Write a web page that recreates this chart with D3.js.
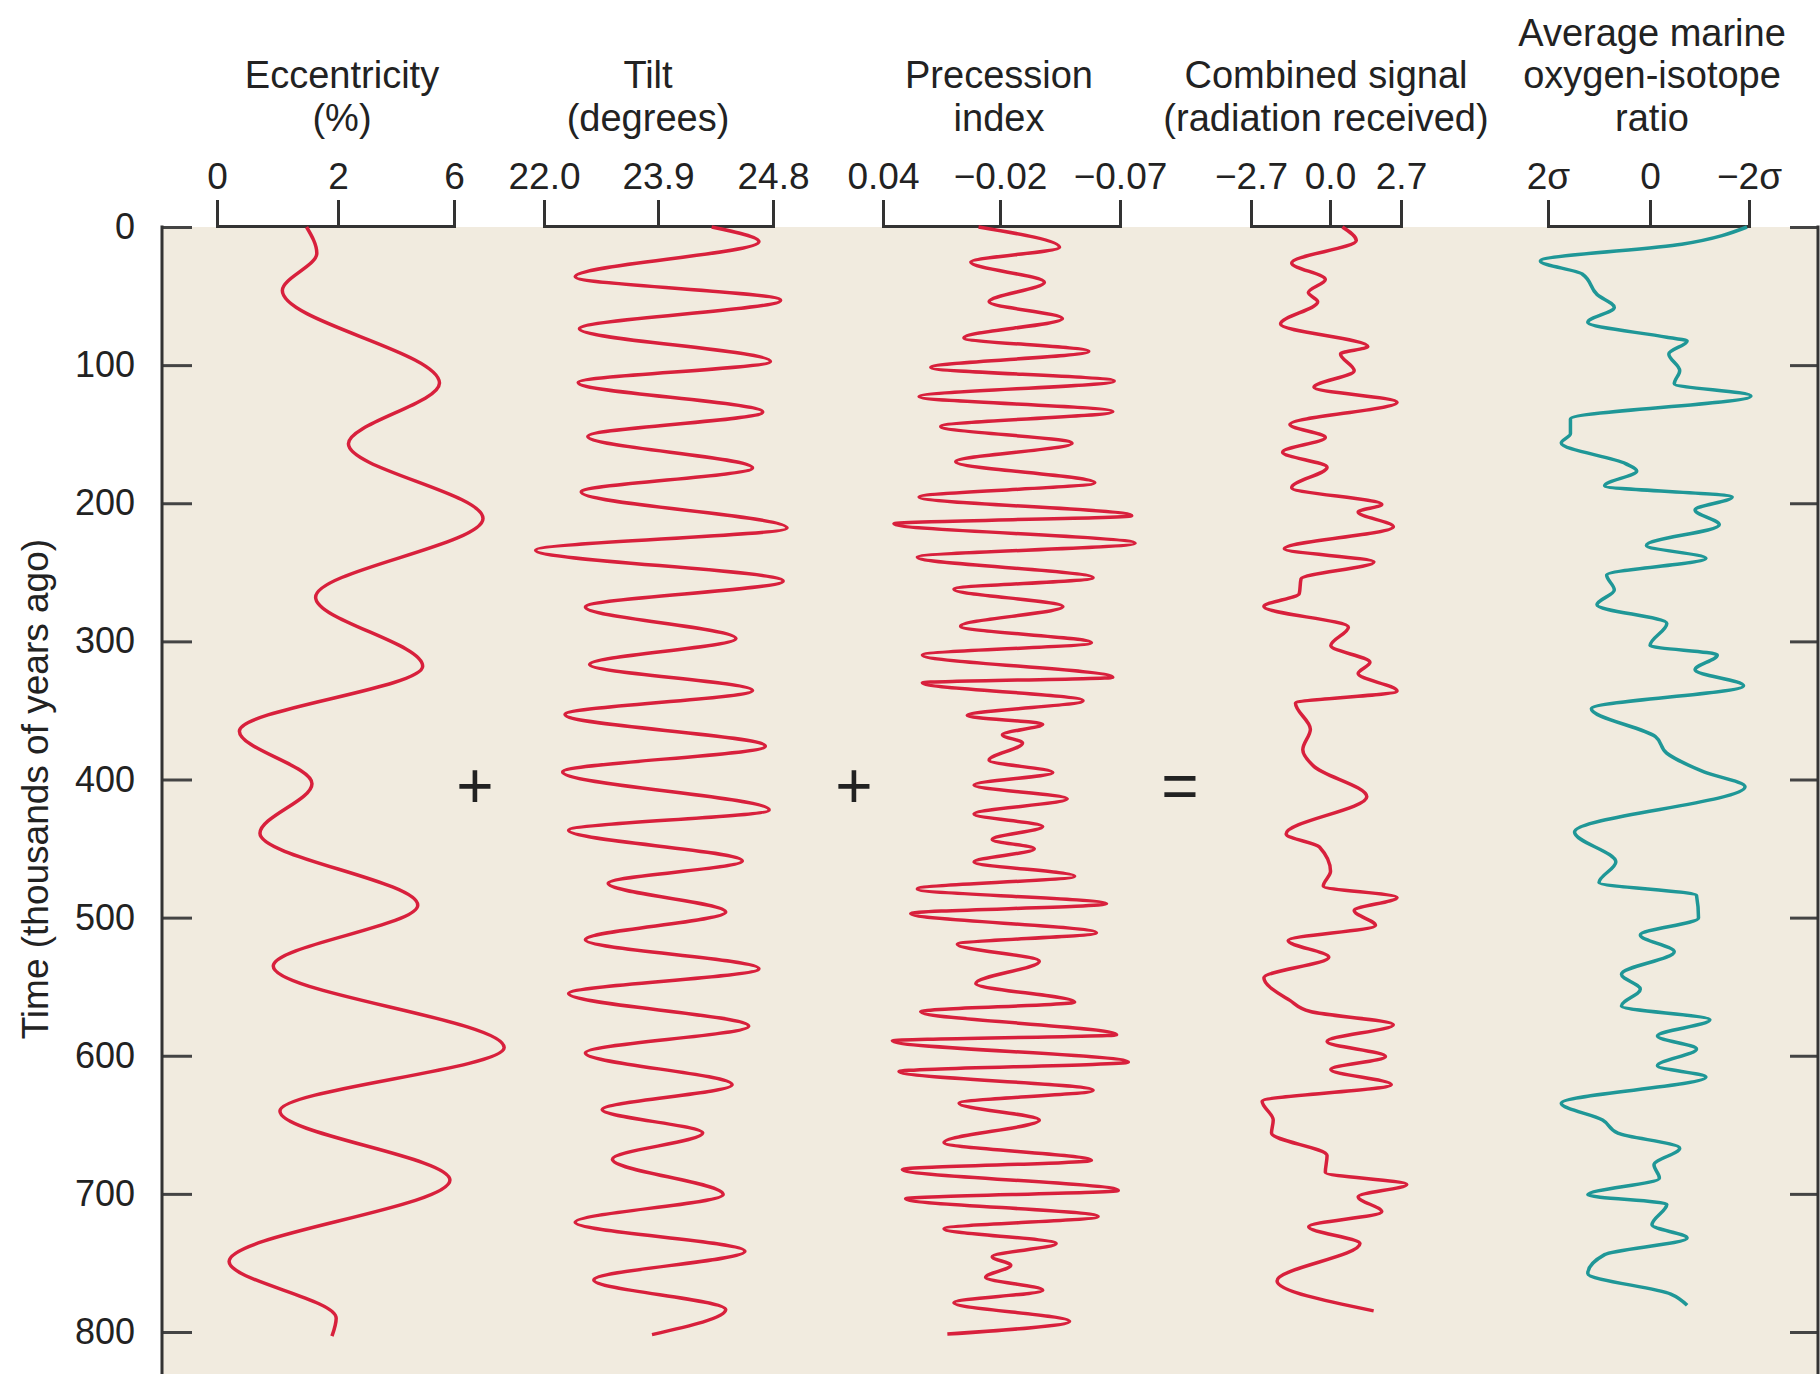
<!DOCTYPE html>
<html>
<head>
<meta charset="utf-8">
<script src="https://cdn.jsdelivr.net/npm/d3@7"></script>
<style>
  body { margin: 0; background: #fff; }
  text { font-family: "Liberation Sans", Arial, Helvetica, sans-serif; fill: #222; }
</style>
</head>
<body>
<div id="chart"></div>
<script>
// time axis (thousands of years ago)
var timeTicks = [0, 100, 200, 300, 400, 500, 600, 700, 800];

// column tick values and their printed labels
var eccTicks = [0, 2, 6];
var eccLabels = ['0', '2', '6'];
var tiltTicks = [22.0, 23.9, 24.8];
var tiltLabels = ['22.0', '23.9', '24.8'];
var precTicks = [0.04, -0.02, -0.07];
var precLabels = ['0.04', '\u22120.02', '\u22120.07'];
var combTicks = [-2.7, 0, 2.7];
var combLabels = ['\u22122.7', '0.0', '2.7'];
var isoTicks = [2, 0, -2];
var isoLabels = ['2\u03c3', '0', '\u22122\u03c3'];

// eccentricity (%)
var eccTime = [0, 19, 46, 113, 157, 211, 268, 318, 365, 403, 439, 491, 535, 594, 640, 690, 749, 790, 803];
var eccValue = [1.48, 1.65, 1.08, 5.50, 2.36, 7.0, 1.63, 4.92, 0.37, 1.57, 0.71, 4.75, 0.93, 7.73, 1.04, 5.86, 0.20, 1.97, 1.90];

// tilt (degrees)
var tiltTime = [0, 10.6, 36, 53, 73.7, 97.3, 112.6, 134, 151.6, 174.4, 191.9, 217.9, 234, 256.3, 275.1, 298, 316.8,
  335.6, 353, 375.9, 394.6, 422, 436.8, 459, 475.2, 496, 516, 537, 555, 578.6, 598, 621, 639, 656, 674.9, 700.4,
  720.6, 741.6, 762.3, 783.8, 801.9];
var tiltValue = [24.32, 24.69, 22.52, 24.86, 22.59, 24.78, 22.57, 24.72, 22.73, 24.64, 22.62, 24.91, 21.86, 24.88,
  22.69, 24.51, 22.76, 24.64, 22.35, 24.74, 22.31, 24.77, 22.41, 24.56, 23.07, 24.43, 22.69, 24.69, 22.41, 24.61,
  22.69, 24.48, 22.97, 24.25, 23.14, 24.41, 22.52, 24.58, 22.83, 24.43, 23.8];

// precession index
var precTime = [0, 14.7, 25.4, 40, 54.2, 66.3, 80.3, 90, 101.8, 111.5, 122.8, 133.6, 144.4, 156.5, 169.9, 185.2,
  195.5, 209, 214.8, 229, 239, 254, 262.2, 274.8, 289, 301, 309.8, 326, 330, 342.9, 353.7, 360, 367.6, 373.6, 386,
  395, 404, 414, 425, 434, 443.4, 450.2, 459.7, 470, 479.2, 490, 497, 511, 519.3, 531.5, 547.7, 561.2, 568, 584.8,
  589.2, 604.6, 611.4, 625, 634.4, 646.6, 662.8, 675.8, 682.3, 697.5, 703.5, 716.4, 725.2, 736, 745.5, 751.7,
  760.4, 769.8, 778.8, 792.3, 801.5];
var precValue = [-0.009, -0.0448, -0.005, -0.0385, -0.0144, -0.046, -0.0015, -0.057, 0.0155, -0.0676, 0.0215,
  -0.067, 0.0104, -0.050, 0.0027, -0.0595, 0.0215, -0.0749, 0.0344, -0.0763, 0.0224, -0.0588, 0.0036, -0.0462,
  0.0002, -0.0581, 0.0198, -0.067, 0.0198, -0.0546, -0.0032, -0.0378, -0.021, -0.0294, -0.0144, -0.042, -0.0067,
  -0.048, -0.0067, -0.0378, -0.016, -0.0343, -0.0067, -0.0511, 0.0224, -0.0644, 0.0258, -0.0602, 0.0019, -0.0364,
  -0.0076, -0.0511, 0.0207, -0.0686, 0.0352, -0.0735, 0.0318, -0.0588, 0.001, -0.0364, 0.0087, -0.0581, 0.0301,
  -0.0693, 0.0284, -0.0609, 0.0087, -0.0434, -0.016, -0.0245, -0.0126, -0.0378, 0.0036, -0.049, 0.007];

// combined signal (radiation received)
var combTime = [0, 9.8, 26, 38, 47.5, 54.2, 70.3, 86.5, 91.9, 104, 116, 126.8, 143, 152.4, 163, 174, 188.7, 200.9,
  206.3, 217, 233, 242.5, 254.7, 265.4, 274.8, 289.7, 303, 315.2, 323.3, 336, 344.8, 363.6, 378.4, 390.5, 412.5,
  439.4, 448.9, 466.5, 477.3, 485.4, 494.9, 505.7, 516.6, 528.7, 543.6, 559.9, 568, 577.5, 589.7, 600.5, 610,
  620.9, 633, 646.5, 656, 672.3, 684.5, 693.2, 702, 713, 723.8, 736, 763, 784.7];
var combValue = [0.47, 1.0, -1.31, -0.16, -0.74, -0.42, -1.69, 1.44, 0.40, 0.92, -0.55, 2.55, -1.37, -0.16, -1.62,
  -0.10, -1.31, 1.97, 1.07, 2.41, -1.56, 1.67, -0.99, -1.05, -2.26, 0.70, 0.03, 1.52, 1.07, 2.55, -1.18, -0.67,
  -0.93, -0.55, 1.40, -1.50, -0.36, 0.02, -0.23, 2.55, 0.92, 1.73, -1.43, -0.04, -2.26, -1.37, -0.67, 2.41, -0.10,
  2.11, 0.03, 2.33, -2.32, -1.94, -2.0, -0.10, -0.16, 2.92, 1.07, 1.97, -0.73, 1.14, -1.81, 1.66];

// average marine oxygen-isotope ratio (sigma units)
var isoTime = [0, 12.5, 24.6, 34, 48.8, 58.3, 69, 79.8, 82.5, 91.9, 104, 113.4, 122.3, 139, 149.7, 156.4, 171.3,
  176.6, 187.4, 195.5, 204.9, 215.6, 230.5, 239.9, 252, 262.8, 273.5, 287, 303, 309.8, 320.6, 332.1, 348.8, 369,
  381, 394.5, 405.3, 438, 459.7, 474.6, 484, 500.3, 512.5, 524.7, 541, 551.8, 564, 574, 585.7, 595.1, 607.3, 615.4,
  634.4, 646.5, 656, 666.9, 679, 688.6, 700.7, 707.5, 722.4, 732, 744, 757.6, 772.5, 780.7];
var isoValue = [-1.96, -0.64, 2.15, 1.33, 1.04, 0.70, 1.22, -0.34, -0.75, -0.38, -0.60, -0.49, -2.04, 1.56, 1.56,
  1.74, 0.48, 0.26, 0.89, -1.66, -0.91, -1.40, 0.07, -1.13, 0.85, 0.70, 1.04, -0.34, 0.0, -1.36, -0.91, -1.89,
  1.15, -0.11, -0.34, -1.09, -1.92, 1.48, 0.67, 1.0, -0.94, -0.98, 0.19, -0.49, 0.56, 0.19, 0.56, -1.21, -0.15,
  -0.94, -0.15, -1.13, 1.74, 0.93, 0.63, -0.60, -0.08, -0.19, 1.22, -0.34, -0.04, -0.75, 0.89, 1.22, -0.42, -0.75];

var red = '#d8203c';
var teal = '#1f9797';

var width = 1820, height = 1374;
var plot = {left: 162, right: 1818, top: 227, bottom: 1374};

var svg = d3.select('#chart')
            .append('svg')
            .attr('width', width)
            .attr('height', height);

var y = d3.scaleLinear().domain([0, 800]).range([227, 1332]);

svg.append('rect')
  .attr('x', plot.left)
  .attr('y', plot.top)
  .attr('width', plot.right - plot.left)
  .attr('height', plot.bottom - plot.top)
  .attr('fill', '#f1ebdf');

var columns = [
  {title: ['Eccentricity', '(%)'], center: 342, ticks: eccTicks, labels: eccLabels,
   range: [217, 338, 454], time: eccTime, value: eccValue, color: red},
  {title: ['Tilt', '(degrees)'], center: 648, ticks: tiltTicks, labels: tiltLabels,
   range: [544, 658, 773], time: tiltTime, value: tiltValue, color: red},
  {title: ['Precession', 'index'], center: 999, ticks: precTicks, labels: precLabels,
   range: [883, 1000, 1120], time: precTime, value: precValue, color: red},
  {title: ['Combined signal', '(radiation received)'], center: 1326, ticks: combTicks, labels: combLabels,
   range: [1251, 1330, 1401], time: combTime, value: combValue, color: red},
  {title: ['Average marine', 'oxygen-isotope', 'ratio'], center: 1652, ticks: isoTicks, labels: isoLabels,
   range: [1548, 1650, 1749], time: isoTime, value: isoValue, color: teal}
];

var titleBase = [46, 88, 131];

columns.forEach(function(c) {
  var x = d3.scaleLinear().domain(c.ticks).range(c.range);

  // column title, bottom aligned
  var n = c.title.length;
  c.title.forEach(function(t, i) {
    svg.append('text')
      .attr('x', c.center)
      .attr('y', titleBase[3 - n + i])
      .attr('text-anchor', 'middle')
      .attr('font-size', 38)
      .text(t);
  });

  var axis = d3.axisTop(x)
    .tickValues(c.ticks)
    .tickFormat(function(d, i) { return c.labels[i]; })
    .tickSize(26)
    .tickPadding(11);

  var g = svg.append('g')
    .attr('transform', 'translate(0,226)')
    .call(axis);
  g.select('.domain').attr('stroke', '#333').attr('stroke-width', 3);
  g.selectAll('.tick line').attr('stroke', '#333').attr('stroke-width', 3);
  g.selectAll('.tick text').attr('font-size', 37);

  var line = d3.line()
    .x(function(d) { return x(d[1]); })
    .y(function(d) { return y(d[0]); })
    .curve(d3.curveMonotoneY);

  svg.append('path')
    .datum(d3.zip(c.time, c.value))
    .attr('d', line)
    .attr('fill', 'none')
    .attr('stroke', c.color)
    .attr('stroke-width', 3.5)
    .attr('stroke-linejoin', 'round');
});

// left time axis, ticks pointing into the plot
var gy = svg.append('g')
  .attr('transform', 'translate(' + plot.left + ',0)')
  .call(d3.axisLeft(y).tickValues(timeTicks).tickSizeInner(-30).tickSizeOuter(0).tickPadding(27));
gy.select('.domain').remove();
gy.selectAll('.tick line').attr('stroke', '#444').attr('stroke-width', 3);
gy.selectAll('.tick text').attr('font-size', 36);

svg.append('line')
  .attr('x1', plot.left).attr('x2', plot.left)
  .attr('y1', plot.top - 1.5).attr('y2', plot.bottom)
  .attr('stroke', '#333').attr('stroke-width', 3);

// right axis, ticks only
var gr = svg.append('g')
  .attr('transform', 'translate(' + plot.right + ',0)')
  .call(d3.axisRight(y).tickValues(timeTicks).tickSizeInner(-28).tickSizeOuter(0).tickFormat(''));
gr.select('.domain').remove();
gr.selectAll('.tick line').attr('stroke', '#444').attr('stroke-width', 3);

svg.append('line')
  .attr('x1', plot.right).attr('x2', plot.right)
  .attr('y1', plot.top - 1.5).attr('y2', plot.bottom)
  .attr('stroke', '#333').attr('stroke-width', 3);

svg.append('text')
  .attr('transform', 'translate(35,' + y(407) + ') rotate(-90)')
  .attr('text-anchor', 'middle')
  .attr('dominant-baseline', 'central')
  .attr('font-size', 37)
  .text('Time (thousands of years ago)');

// operators between the columns
var ops = [{x: 475, s: '+'}, {x: 854, s: '+'}, {x: 1180, s: '='}];
svg.selectAll('.op')
  .data(ops)
  .enter()
  .append('text')
  .attr('class', 'op')
  .attr('x', function(d) { return d.x; })
  .attr('y', y(405))
  .attr('text-anchor', 'middle')
  .attr('dominant-baseline', 'central')
  .attr('font-size', 64)
  .text(function(d) { return d.s; });
</script>
</body>
</html>
